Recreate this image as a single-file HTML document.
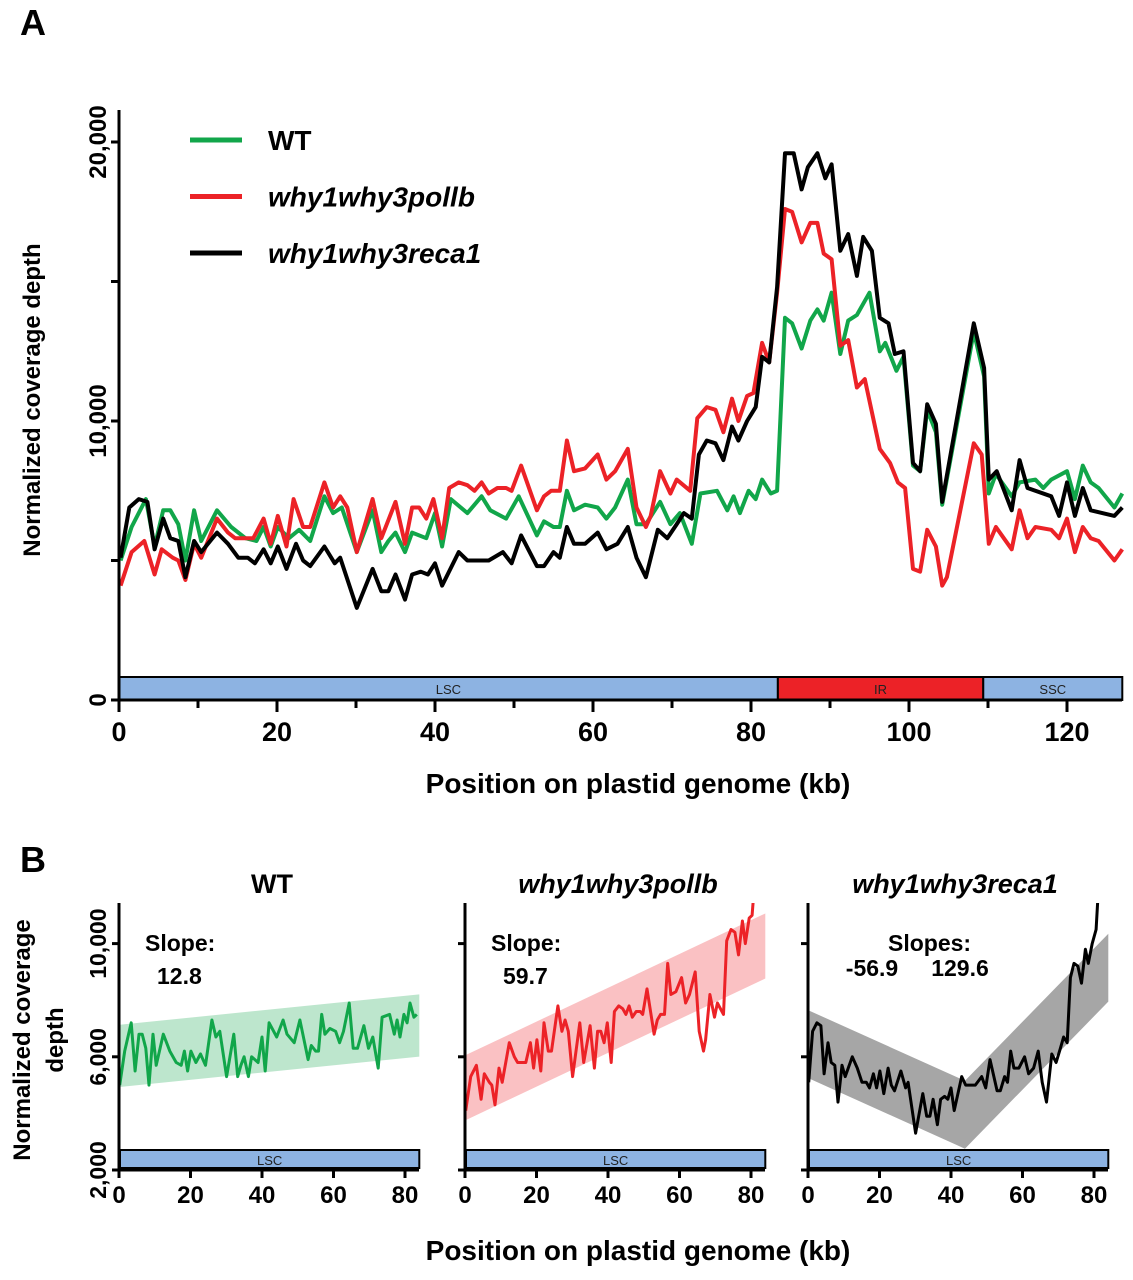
<!DOCTYPE html>
<html><head><meta charset="utf-8"><style>
body{margin:0;background:#fff}
svg{display:block;font-family:"Liberation Sans",Arial,sans-serif;font-weight:bold}
</style></head><body>
<svg id="fig" width="1133" height="1280" viewBox="0 0 1133 1280" xmlns="http://www.w3.org/2000/svg">
<text x="20" y="35" font-size="36">A</text>
<text x="20" y="872" font-size="36">B</text>
<g id="gA"></g>
<g id="gB"></g>
</svg>
<script>
// ---- data (kb positions and coverage in thousands) ----
const wtKb=[0.2,1.6,3.4,4.5,5.6,6.5,7.5,8.4,9.5,10.4,12.4,14.2,16.0,17.4,18.3,19.2,20.1,21.5,22.8,24.2,26.0,27.1,28.2,30.1,32.1,33.2,34.1,35.0,36.2,37.1,38.9,40.0,40.9,42.0,44.1,45.9,47.0,49.0,50.6,52.9,53.8,55.0,55.8,56.7,57.6,59.0,60.6,61.7,62.8,64.4,65.5,66.7,68.5,69.8,71.0,72.5,73.6,75.7,77.0,77.8,78.6,79.7,80.6,81.4,82.5,83.3,84.3,85.2,86.4,87.5,88.4,89.2,90.2,91.3,92.3,93.4,94.2,95.0,96.3,97.0,98.4,99.3,100.5,101.4,102.3,103.4,104.2,108.2,109.5,110.1,111.0,113,114,116,117,118,120,121,122,123,124,126,127];
const wtVal=[5.0,6.2,7.2,5.5,6.8,6.8,6.3,5.0,6.8,5.7,6.8,6.2,5.8,5.7,6.2,5.5,6.2,5.8,6.1,5.7,7.3,6.7,6.9,5.3,6.8,5.3,5.7,6.0,5.3,6.0,5.8,6.7,5.5,7.2,6.7,7.3,6.8,6.5,7.3,5.9,6.4,6.2,6.2,7.5,6.8,7.0,6.9,6.5,6.9,7.9,6.3,6.3,7.1,6.3,6.7,5.6,7.4,7.5,6.8,7.3,6.7,7.5,7.2,7.9,7.4,7.5,13.7,13.5,12.6,13.6,14.0,13.6,14.6,12.4,13.6,13.8,14.2,14.6,12.5,12.8,11.8,12.3,8.4,8.2,10.4,9.6,7.0,13.2,11.6,7.4,8.1,7.3,7.8,7.9,7.6,7.9,8.2,7.2,8.4,7.8,7.6,6.9,7.4];
const redKb=[0.2,1.6,3.2,4.5,5.4,6.8,7.5,8.4,9.5,10.4,12.4,13.8,14.7,17.0,18.3,19.2,20.1,21.2,22.1,23.3,24.2,26.0,27.1,28.0,28.9,30.1,32.1,33.2,35.0,36.2,37.1,38.0,38.9,39.8,40.9,41.8,43.0,44.1,45.0,45.9,46.8,47.9,49.0,49.7,50.9,52.9,53.8,54.7,55.8,56.7,57.6,59.0,60.6,61.7,62.8,64.4,65.5,66.7,67.3,68.5,69.8,70.6,72.3,73.2,74.4,75.5,76.5,77.6,78.4,79.5,80.3,81.4,82.3,83.3,84.3,85.2,86.4,87.5,88.4,89.2,90.2,91.3,92.3,93.4,94.4,96.3,97.6,98.6,99.5,100.5,101.4,102.3,103.4,104.2,104.8,108.2,109.2,110.1,111,112,113,114,115,116,118,119,120,121,122,123,124,126,127];
const redVal=[4.1,5.3,5.7,4.5,5.4,5.1,5.0,4.3,5.6,5.1,6.5,6.0,5.8,5.8,6.5,5.6,6.6,5.5,7.2,6.2,6.2,7.8,6.9,7.3,6.9,5.3,7.2,5.8,7.1,5.6,6.9,6.9,6.5,7.2,5.8,7.6,7.8,7.7,7.5,7.8,7.4,7.6,7.6,7.5,8.4,6.8,7.3,7.5,7.5,9.3,8.2,8.3,8.8,7.9,8.2,9.0,6.9,6.2,6.6,8.2,7.4,7.9,7.5,10.1,10.5,10.4,9.6,10.8,10.0,10.9,11.0,12.8,12.1,14.6,17.6,17.5,16.4,17.1,17.1,16.0,15.8,12.7,12.9,11.2,11.5,9.0,8.5,7.8,7.6,4.7,4.6,6.1,5.5,4.1,4.4,9.2,8.8,5.6,6.2,5.8,5.4,6.8,5.8,6.2,6.1,5.8,6.5,5.3,6.2,5.8,5.7,5.0,5.4];
const blkKb=[0.2,1.3,2.5,3.6,4.5,5.6,6.5,7.5,8.4,9.5,10.4,12.4,13.8,15.1,16.3,17.2,18.3,19.2,20.1,21.2,22.4,23.3,24.2,26.0,27.3,28.0,30.1,32.1,33.2,34.1,35.0,36.2,37.1,38.2,39.1,40.0,40.9,43.0,44.1,45.9,46.8,48.6,49.7,50.9,52.9,53.8,55.0,55.8,56.7,57.6,59.0,60.6,61.7,63.1,64.4,65.5,66.7,68.2,69.4,70.6,71.5,72.5,73.4,74.4,75.5,76.5,77.6,78.4,79.5,80.6,81.4,82.3,83.3,84.3,85.4,86.4,87.2,88.4,89.4,90.2,91.3,92.3,93.4,94.2,95.3,96.3,97.4,98.2,99.3,100.5,101.4,102.3,103.4,104.2,108.2,109.5,110.1,111.1,113,114,115,118,119,120,121,122,123,126,127];
const blkVal=[5.1,6.9,7.2,7.1,5.4,6.5,5.8,5.7,4.4,5.7,5.3,6.0,5.6,5.1,5.1,4.9,5.4,4.9,5.5,4.7,5.6,5.0,4.8,5.5,4.9,5.1,3.3,4.7,3.9,3.9,4.5,3.6,4.5,4.6,4.5,4.9,4.1,5.3,5.0,5.0,5.0,5.3,4.9,5.9,4.8,4.8,5.3,5.1,6.2,5.6,5.6,6.0,5.4,5.6,6.2,5.1,4.4,6.1,5.8,6.3,6.7,6.5,8.8,9.3,9.2,8.6,9.8,9.3,10.0,10.5,12.3,12.1,14.8,19.6,19.6,18.3,19.1,19.6,18.7,19.2,16.1,16.7,15.2,16.6,16.1,13.7,13.5,12.4,12.5,8.5,8.2,10.6,9.9,7.1,13.5,11.9,7.9,8.2,6.8,8.6,7.6,7.3,6.6,7.8,6.6,7.6,6.8,6.6,6.9];
const xTicksA=[0,20,40,60,80,100,120];
const yTicksA=[0,10000,20000];
const yTickLabelsA=["0","10,000","20,000"];
const regionNames=["LSC","IR","SSC"];
const regionStart=[0,83.4,109.4];
const regionEnd=[83.4,109.4,127];
const xTicksB=[0,20,40,60,80];
const yTicksB=[2000,6000,10000];
const yTickLabelsB=["2,000","6,000","10,000"];
const bTitles=["WT","why1why3pollb","why1why3reca1"];
const bIntercepts=[6.03,4.9,6.45];
const bSlopes=[12.8,59.7,-56.9];
const bSlopes2=[null,null,129.6];
const bBreak=[null,null,43.9];

const NS="http://www.w3.org/2000/svg";
function mk(tag,attrs,parent,txt){const e=document.createElementNS(NS,tag);for(const k in attrs)e.setAttribute(k,attrs[k]);if(txt!==undefined)e.textContent=txt;parent.appendChild(e);return e;}
const colors=["#11a64a","#ec2227","#000"];
const series=[[wtKb,wtVal],[redKb,redVal],[blkKb,blkVal]];

// ---- Panel A ----
const gA=document.getElementById('gA');
const xA=kb=>119+kb*7.9;
const yA=v=>700-v*0.0279;
for(let i=0;i<3;i++){
  const el=mk('rect',{x:xA(regionStart[i]),y:677,width:xA(regionEnd[i])-xA(regionStart[i]),height:23,fill:i==1?"#ec2227":"#8db3e2",stroke:"#000","stroke-width":2},gA);
  
  
  const t=mk('text',{x:(xA(regionStart[i])+xA(regionEnd[i]))/2,y:694,"font-size":13,"font-weight":"normal","text-anchor":"middle",fill:"#222"},gA,regionNames[i]);
  
  
}
series.forEach((s,si)=>{
  const d=s[0].map((k,i)=>(i?'L':'M')+xA(k).toFixed(1)+','+yA(s[1][i]*1000).toFixed(1)).join('');
  const p=mk('path',{d:d,fill:"none",stroke:colors[si],"stroke-width":4,"stroke-linejoin":"round"},gA);
  
  
});
mk('path',{d:"M119,110V712M111,700H1122",stroke:"#000","stroke-width":3,fill:"none"},gA);
for(let v=0;v<=20000;v+=5000){mk('line',{x1:111,x2:119,y1:yA(v),y2:yA(v),stroke:"#000","stroke-width":3},gA);}
yTicksA.forEach((v,i)=>{const t=mk('text',{transform:`translate(106,${yA(v)}) rotate(-90)`,"font-size":24,"text-anchor":"middle"},gA,yTickLabelsA[i]);
  
  });
for(let k=0;k<=120;k+=10){mk('line',{x1:xA(k),x2:xA(k),y1:700,y2:k%20?708:712,stroke:"#000","stroke-width":3},gA);}
xTicksA.forEach(k=>{const t=mk('text',{x:xA(k),y:741,"font-size":27,"text-anchor":"middle"},gA,String(k));
  
  });
const yl=mk('text',{transform:"translate(40,400) rotate(-90)","font-size":24,"text-anchor":"middle"},gA,"Normalized coverage depth");


const xl=mk('text',{x:638,y:793,"font-size":28,"text-anchor":"middle"},gA,"Position on plastid genome (kb)");


bTitles.forEach((n,i)=>{const y=140+i*56.5;
  const l=mk('line',{x1:190,x2:242,y1:y,y2:y,stroke:colors[i],"stroke-width":5},gA);
  
  
  const t=mk('text',{x:268,y:y+10,"font-size":28,"font-style":i?"italic":"normal"},gA,n);
  
  
});

// ---- Panel B ----
const gB=document.getElementById('gB');
const offs=[0,346,689];
const yB=v=>1170-(v-2000)*0.0283;
mk('defs',{},gB).innerHTML='<clipPath id="cb"><rect x="100" y="903" width="330" height="270"/></clipPath>';
for(let p=0;p<3;p++){
  const g=mk('g',{transform:`translate(${offs[p]},0)`},gB);
  
  
  const xB=kb=>119+kb*3.575;
  const cg=mk('g',{"clip-path":"url(#cb)"},g);
  const h=p==2?1.2:(p==1?1.15:1.1);
  let pts;
  if(bBreak[p]===null){pts=[0,84];}else{pts=[0,bBreak[p],84];}
  const cen=k=>{if(bBreak[p]===null||k<=bBreak[p])return bIntercepts[p]+bSlopes[p]*k/1000;
    const v=bIntercepts[p]+bSlopes[p]*bBreak[p]/1000;return v+bSlopes2[p]*(k-bBreak[p])/1000;};
  const top=pts.map(k=>xB(k)+','+yB((cen(k)+h)*1000));
  const bot=pts.slice().reverse().map(k=>xB(k)+','+yB((cen(k)-h)*1000));
  const band=mk('polygon',{points:top.concat(bot).join(' '),fill:colors[p],opacity:p==2?0.35:0.28},cg);
  
  
  const s=series[p];
  const d=[];s[0].forEach((k,i)=>{if(k<=84)d.push((d.length?'L':'M')+xB(k).toFixed(1)+','+yB(s[1][i]*1000).toFixed(1));});
  const ln=mk('path',{d:d.join(''),fill:"none",stroke:colors[p],"stroke-width":3,"stroke-linejoin":"round"},cg);
  
  
  const bar=mk('rect',{x:120,y:1150,width:xB(84)-120,height:18,fill:"#8db3e2",stroke:"#000","stroke-width":2},g);
  
  
  mk('text',{x:(120+xB(84))/2,y:1165,"font-size":13,"font-weight":"normal","text-anchor":"middle",fill:"#222"},g,"LSC");
  mk('path',{d:"M119,903V1178M113,1170H419",stroke:"#000","stroke-width":3,fill:"none"},g);
  yTicksB.forEach(v=>mk('line',{x1:112,x2:119,y1:yB(v),y2:yB(v),stroke:"#000","stroke-width":3},g));
  xTicksB.forEach(k=>{mk('line',{x1:xB(k),x2:xB(k),y1:1170,y2:1178,stroke:"#000","stroke-width":3},g);
    const t=mk('text',{x:xB(k),y:1203,"font-size":24,"text-anchor":"middle"},g,String(k));
    
    });
  const tt=mk('text',{x:[272,272,266][p],y:893,"font-size":27,"text-anchor":"middle","font-style":p?"italic":"normal"},g,bTitles[p]);
  
  
  if(p<2){
    const st=mk('text',{x:145,y:951,"font-size":23},g,"Slope:");
    
    
    const sv=mk('text',{x:157,y:984,"font-size":23},g,bSlopes[p].toFixed(1));
    
    
  }else{
    const st=mk('text',{x:199,y:951,"font-size":23},g,"Slopes:");
    
    
    const s1=mk('text',{x:183,y:976,"font-size":23,"text-anchor":"middle"},g,bSlopes[p].toFixed(1));
    
    
    const s2=mk('text',{x:271,y:976,"font-size":23,"text-anchor":"middle"},g,bSlopes2[p].toFixed(1));
    
    
  }
  if(p==0){
    yTicksB.forEach((v,i)=>{const t=mk('text',{transform:`translate(106,${yB(v)}) rotate(-90)`,"font-size":23,"text-anchor":"middle"},g,yTickLabelsB[i]);
      
      });
  }
}
const byl=mk('text',{transform:"translate(30,1040) rotate(-90)","font-size":24,"text-anchor":"middle"},gB,"Normalized coverage");


const byl2=mk('text',{transform:"translate(63,1040) rotate(-90)","font-size":24,"text-anchor":"middle"},gB,"depth");


const bxl=mk('text',{x:638,y:1260,"font-size":28,"text-anchor":"middle"},gB,"Position on plastid genome (kb)");


</script>
</body></html>
